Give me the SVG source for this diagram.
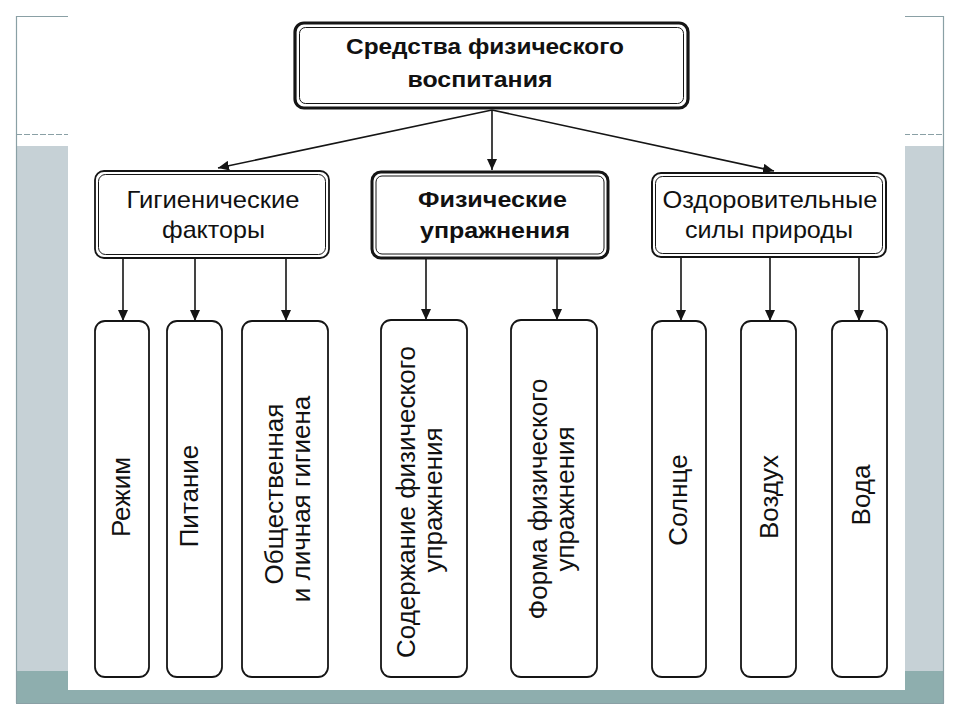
<svg xmlns="http://www.w3.org/2000/svg" width="960" height="720" viewBox="0 0 960 720">
  <defs>
    <style>
      .frame { fill: none; stroke: #8aa0a5; stroke-width: 1.2; }
      .box { fill: #ffffff; stroke: #151515; }
      .inner { fill: none; stroke: #151515; stroke-width: 1; }
      .leaf { fill: #ffffff; stroke: #151515; stroke-width: 1.8; }
      .t { font-family: "Liberation Sans", Arial, sans-serif; fill: #111111; text-anchor: middle; }
      .h { font-size: 24px; }
      .b { font-size: 22px; font-weight: bold; }
      .v { font-size: 26px; }
      .conn { stroke: #151515; stroke-width: 1.6; fill: none; marker-end: url(#arr); }
    </style>
    <marker id="arr" markerUnits="userSpaceOnUse" markerWidth="12" markerHeight="10" refX="11" refY="5" orient="auto">
      <path d="M0,0 L11,5 L0,10 Z" fill="#151515"/>
    </marker>
  </defs>

  <!-- slide background -->
  <rect x="0" y="0" width="960" height="720" fill="#ffffff"/>
  <rect x="17" y="146" width="926" height="525" fill="#c6d1d6"/>
  <rect x="17" y="671" width="926" height="32" fill="#8eaeae"/>
  <line x1="16.5" y1="16" x2="16.5" y2="703" class="frame"/>
  <line x1="943.5" y1="16" x2="943.5" y2="703" class="frame"/>
  <line x1="16" y1="16.5" x2="944" y2="16.5" class="frame"/>
  <line x1="16" y1="134.5" x2="944" y2="134.5" class="frame" stroke-dasharray="6 2"/>
  <line x1="16" y1="703.5" x2="944" y2="703.5" class="frame" stroke="#b9c7ca"/>
  <rect x="68" y="0" width="837" height="690" fill="#ffffff"/>

  <!-- connectors -->
  <g id="connectors">
    <line class="conn" x1="492" y1="110" x2="218" y2="168"/>
    <line class="conn" x1="492" y1="110" x2="492" y2="170"/>
    <line class="conn" x1="492" y1="110" x2="774" y2="171"/>
    <line class="conn" x1="123" y1="259" x2="123" y2="321"/>
    <line class="conn" x1="195" y1="259" x2="195" y2="321"/>
    <line class="conn" x1="286" y1="259" x2="286" y2="321"/>
    <line class="conn" x1="426" y1="259" x2="426" y2="320"/>
    <line class="conn" x1="557" y1="259" x2="557" y2="320"/>
    <line class="conn" x1="681" y1="258" x2="681" y2="321"/>
    <line class="conn" x1="770" y1="258" x2="770" y2="321"/>
    <line class="conn" x1="859" y1="258" x2="859" y2="321"/>
  </g>

  <!-- top node -->
  <g id="root">
    <rect class="box" x="295" y="23" width="393" height="85" rx="9" stroke-width="3.2"/>
    <rect class="inner" x="299.5" y="27.5" width="384" height="76" rx="6" stroke-width="1.2"/>
    <text class="t b" x="485" y="54" textLength="278" lengthAdjust="spacingAndGlyphs">Средства физического</text>
    <text class="t b" x="480" y="87" textLength="145" lengthAdjust="spacingAndGlyphs">воспитания</text>
  </g>

  <!-- second level -->
  <g id="hygiene">
    <rect class="box" x="95" y="171" width="234" height="87" rx="9" stroke-width="1.8"/>
    <rect class="inner" x="98.5" y="174.5" width="227" height="80" rx="7"/>
    <text class="t h" x="213" y="208" textLength="173" lengthAdjust="spacingAndGlyphs">Гигиенические</text>
    <text class="t h" x="213.5" y="238" textLength="103" lengthAdjust="spacingAndGlyphs">факторы</text>
  </g>
  <g id="exercises">
    <rect class="box" x="372" y="172" width="236" height="86" rx="9" stroke-width="3"/>
    <rect class="inner" x="376" y="176" width="228" height="78" rx="6"/>
    <text class="t b" x="492.5" y="207" textLength="149" lengthAdjust="spacingAndGlyphs">Физические</text>
    <text class="t b" x="495" y="238" textLength="150" lengthAdjust="spacingAndGlyphs">упражнения</text>
  </g>
  <g id="nature">
    <rect class="box" x="652" y="173" width="234" height="84" rx="9" stroke-width="2"/>
    <rect class="inner" x="655.5" y="176.5" width="227" height="77" rx="7"/>
    <text class="t h" x="770" y="208" textLength="215" lengthAdjust="spacingAndGlyphs">Оздоровительные</text>
    <text class="t h" x="769" y="238" textLength="168" lengthAdjust="spacingAndGlyphs">силы природы</text>
  </g>

  <!-- third level -->
  <g id="rezhim">
    <rect class="leaf" x="95" y="321" width="54" height="356" rx="10"/>
    <text class="t v" transform="translate(130,497) rotate(-90)">Режим</text>
  </g>
  <g id="pitanie">
    <rect class="leaf" x="167" y="321" width="55" height="356" rx="10"/>
    <text class="t v" transform="translate(198,496) rotate(-90)">Питание</text>
  </g>
  <g id="gigiena">
    <rect class="leaf" x="242" y="321" width="86" height="356" rx="10"/>
    <text class="t v" transform="translate(283,494) rotate(-90)">Общественная</text>
    <text class="t v" transform="translate(310,499) rotate(-90)">и личная гигиена</text>
  </g>
  <g id="soderzhanie">
    <rect class="leaf" x="381" y="320" width="86" height="357" rx="10"/>
    <text class="t v" transform="translate(415,502) rotate(-90)">Содержание физического</text>
    <text class="t v" transform="translate(442,500) rotate(-90)">упражнения</text>
  </g>
  <g id="forma">
    <rect class="leaf" x="511" y="320" width="86" height="357" rx="10"/>
    <text class="t v" transform="translate(547,499) rotate(-90)">Форма физического</text>
    <text class="t v" transform="translate(574,499) rotate(-90)">упражнения</text>
  </g>
  <g id="solnce">
    <rect class="leaf" x="652" y="321" width="54" height="356" rx="10"/>
    <text class="t v" transform="translate(687,500) rotate(-90)">Солнце</text>
  </g>
  <g id="vozduh">
    <rect class="leaf" x="741" y="321" width="55" height="356" rx="10"/>
    <text class="t v" transform="translate(778,497) rotate(-90)">Воздух</text>
  </g>
  <g id="voda">
    <rect class="leaf" x="832" y="321" width="55" height="356" rx="10"/>
    <text class="t v" transform="translate(870,495) rotate(-90)">Вода</text>
  </g>
</svg>
